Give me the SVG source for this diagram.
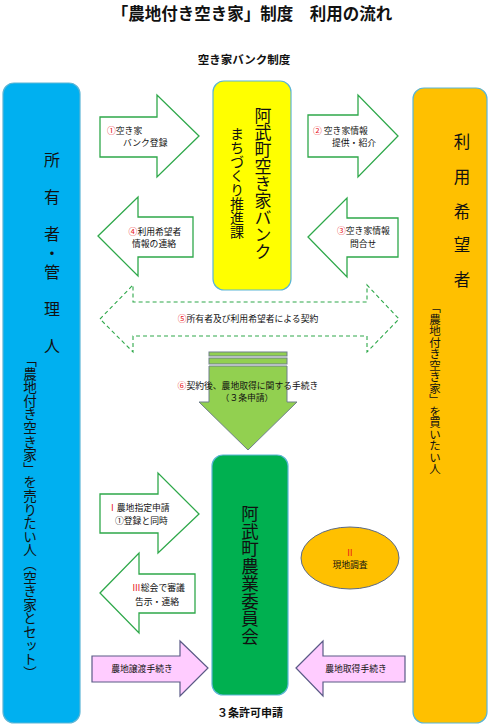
<svg xmlns="http://www.w3.org/2000/svg" width="502" height="728" viewBox="0 0 502 728">
<style>
text{font-family:"Noto Sans CJK JP","Noto Sans CJK SC",sans-serif;fill:#111;}
.s{font-size:8.8px;}
.red{fill:#E8141B;}
.v{writing-mode:vertical-rl;}
.box{stroke:#5BB5D5;stroke-width:1.2;}
.garr{fill:#fff;stroke:#2EA84A;stroke-width:1.3;}
.parr{fill:#FFCCFF;stroke:#5A5A86;stroke-width:1.2;}
</style>
<rect width="502" height="728" fill="#fff"/>
<text x="252" y="20" font-size="16.5" font-weight="bold" text-anchor="middle">「農地付き空き家」制度　利用の流れ</text>
<text x="244" y="64" font-size="11.5" font-weight="bold" text-anchor="middle">空き家バンク制度</text>

<g id="owner">
<rect class="box" x="3" y="83" width="77" height="640" rx="11" fill="#00B0F0"/>
<g font-size="16" text-anchor="middle">
<text x="52" y="166">所</text>
<text x="52" y="203">有</text>
<text x="52" y="315">理</text>
<text x="52" y="352">人</text>
</g>
<text class="v" x="52" y="226" font-size="16" letter-spacing="3">者・管</text>
<text class="v" x="30" y="353" font-size="13.6">「農地付き空き家」を売りたい人（空き家とセット）</text>
</g>

<g id="bank">
<rect class="box" x="213" y="81" width="78" height="209" rx="11" fill="#FFFF00"/>
<text class="v" x="263" y="107" font-size="17">阿武町空き家バンク</text>
<text class="v" x="237" y="127" font-size="14">まちづくり推進課</text>
</g>

<g id="user">
<rect class="box" x="413" y="88" width="74" height="635" rx="11" fill="#FFC000"/>
<g font-size="16.5" text-anchor="middle">
<text x="462" y="148">利</text>
<text x="462" y="183">用</text>
<text x="462" y="218">希</text>
<text x="462" y="251">望</text>
<text x="462" y="286">者</text>
</g>
<text class="v" x="435" y="302" font-size="11.5">「農地付き空き家」を買いたい人</text>
</g>

<g id="committee">
<rect class="box" x="212" y="455" width="76" height="240" rx="11" fill="#00B050"/>
<text class="v" x="250" y="505" font-size="17.5">阿武町農業委員会</text>
</g>

<g id="survey">
<ellipse cx="350" cy="558" rx="49" ry="31" fill="#FFC000" stroke="#5A6A8A" stroke-width="1"/>
<text class="s red" x="350" y="556" text-anchor="middle">Ⅱ</text>
<text class="s" x="350" y="568" text-anchor="middle">現地調査</text>
</g>

<g id="connectors">
<polygon class="garr" points="100,117 157,117 157,95 199,136 157,177 157,157 100,157"/>
<polygon class="garr" points="308,115 358,115 358,95 398,136 358,177 358,157 308,157"/>
<polygon class="garr" points="98,236 138,197 138,217 193,217 193,257 138,257 138,276"/>
<polygon class="garr" points="308,237 347,198 347,218 398,218 398,257 347,257 347,277"/>
<polygon points="100,319 133,285 133,302 367,302 367,285 399,319 367,352 367,336 133,336 133,352" fill="#fff" stroke="#2EA84A" stroke-width="1.1" stroke-dasharray="4,3"/>
<g fill="#92D050" stroke="#6E7F8A" stroke-width="1">
<rect x="209" y="352" width="78" height="4"/>
<rect x="209" y="358" width="78" height="6"/>
<polygon points="209,366 287,366 287,402 297,402 248,450 199,402 209,402"/>
</g>
<polygon class="garr" points="100,494 158,494 158,473 199,514 158,553 158,533 100,533"/>
<polygon class="garr" points="100,593 139,553 139,574 195,574 195,613 139,613 139,633"/>
<polygon class="parr" points="92,656 180,656 180,641 208,668 180,696 180,682 92,682"/>
<polygon class="parr" points="296,668 323,641 323,656 405,656 405,682 323,682 323,696"/>

<text class="s" x="107" y="134"><tspan class="red">①</tspan>空き家</text>
<text class="s" x="123" y="146">バンク登録</text>
<text class="s" x="313" y="134"><tspan class="red">②</tspan> 空き家情報</text>
<text class="s" x="332" y="146">提供・紹介</text>
<text class="s" x="155" y="235" text-anchor="middle"><tspan class="red">④</tspan>利用希望者</text>
<text class="s" x="154" y="247" text-anchor="middle">情報の連絡</text>
<text class="s" x="337" y="234"><tspan class="red">③</tspan>空き家情報</text>
<text class="s" x="350" y="247">問合せ</text>
<text class="s" x="248" y="322" text-anchor="middle"><tspan class="red">⑤</tspan>所有者及び利用希望者による契約</text>
<text class="s" x="248" y="389" text-anchor="middle"><tspan class="red">⑥</tspan>契約後、農地取得に関する手続き</text>
<text class="s" x="247" y="401" text-anchor="middle">（３条申請）</text>
<text class="s" x="108" y="511"><tspan class="red">Ⅰ</tspan>農地指定申請</text>
<text class="s" x="115" y="524">①登録と同時</text>
<text class="s" x="132" y="591"><tspan class="red">Ⅲ</tspan>総会で審議</text>
<text class="s" x="135" y="605">告示・連絡</text>
<text class="s" x="142" y="672" text-anchor="middle">農地譲渡手続き</text>
<text class="s" x="356" y="672" text-anchor="middle">農地取得手続き</text>
</g>
<text x="250" y="717" font-size="11" font-weight="bold" text-anchor="middle">３条許可申請</text>
</svg>
